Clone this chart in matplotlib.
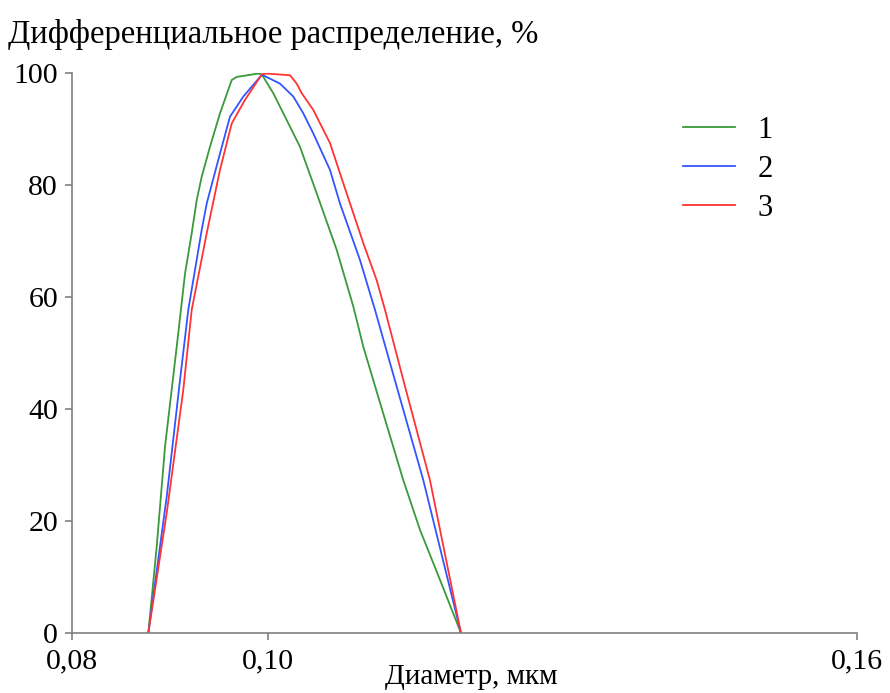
import matplotlib
matplotlib.use("Agg")
import matplotlib.pyplot as plt

plt.rcParams['font.family'] = ['Liberation Serif', 'DejaVu Serif']

# Data (diameter, um ; differential distribution, %)
x1 = [0.08778, 0.08863, 0.08948, 0.09067, 0.09152, 0.09220, 0.09271, 0.09322, 0.09406,
      0.09508, 0.09628, 0.09678, 0.09899, 0.09936, 0.10051, 0.10188, 0.10324, 0.10494,
      0.10698, 0.10867, 0.10969, 0.11172, 0.11376, 0.11547, 0.11750, 0.11964]
y1 = [0, 15.4, 33.3, 51.1, 64.2, 71.4, 77.3, 81.5, 86.8,
      92.8, 98.75, 99.3, 99.9, 99.7, 96.4, 91.6, 86.8, 78.5,
      68.4, 58.3, 51.1, 39.2, 27.3, 18.4, 9.5, 0]

x2 = [0.08778, 0.08965, 0.09101, 0.09185, 0.09322, 0.09373, 0.09491, 0.09610, 0.09746,
      0.09936, 0.10120, 0.10255, 0.10357, 0.10459, 0.10629, 0.10731, 0.10935, 0.11088,
      0.11309, 0.11580, 0.11964]
y2 = [0, 24.3, 45.2, 57.7, 72.0, 76.7, 84.5, 92.2, 95.8,
      99.7, 98.1, 95.8, 92.8, 89.2, 82.7, 76.7, 66.6, 57.7,
      44.0, 27.3, 0]

x3 = [0.08778, 0.08965, 0.09134, 0.09220, 0.09373, 0.09508, 0.09628, 0.09763, 0.09936,
      0.09984, 0.10222, 0.10290, 0.10341, 0.10459, 0.10629, 0.10765, 0.10969, 0.11105,
      0.11190, 0.11376, 0.11648, 0.11964]
y3 = [0, 21.4, 43.4, 57.7, 71.4, 82.7, 91.0, 95.2, 99.8,
      99.9, 99.6, 98.1, 96.4, 93.4, 87.5, 80.3, 69.6, 63.0,
      57.7, 45.2, 27.3, 0]

labels = ['1', '2', '3']
colors = ['#3a9a3a', '#3355ff', '#ff3333']
xticks = [0.08, 0.10, 0.16]
xticklabels = ['0,08', '0,10', '0,16']
yticks = [0, 20, 40, 60, 80, 100]

W, H = 890, 693
fig = plt.figure(figsize=(W / 100, H / 100), dpi=100)
ax = fig.add_axes([72 / W, (H - 633) / H, (857 - 72) / W, (633 - 73) / H])

for xs, ys, c, lab in zip([x1, x2, x3], [y1, y2, y3], colors, labels):
    ax.plot(xs, ys, color=c, lw=1.3, label=lab)

ax.set_xlim(0.08, 0.16)
ax.set_ylim(0, 100)
ax.set_xticks(xticks)
ax.set_xticklabels(xticklabels)
ax.set_yticks(yticks)
for s in ['top', 'right']:
    ax.spines[s].set_visible(False)
for s in ['left', 'bottom']:
    ax.spines[s].set_color('#808080')
    ax.spines[s].set_linewidth(1.2)
ax.tick_params(axis='both', direction='out', length=5, width=1.2, color='#808080',
               labelsize=21.5)
ax.tick_params(axis='x', pad=6)
ax.tick_params(axis='y', pad=5)

fig.text(8 / W, 1 - 34 / H, 'Дифференциальное распределение, %', fontsize=23.5,
         ha='left', va='center')
fig.text(471 / W, 1 - 677 / H, 'Диаметр, мкм', fontsize=21, ha='center', va='center')

leg = ax.legend(loc='upper left', bbox_to_anchor=((683 - 72) / 785, (633 - 116) / 560),
                frameon=False, fontsize=22, handlelength=1.7, handletextpad=0.75,
                labelspacing=0.33, borderaxespad=0, borderpad=0)

fig.savefig('out.png', dpi=100)
